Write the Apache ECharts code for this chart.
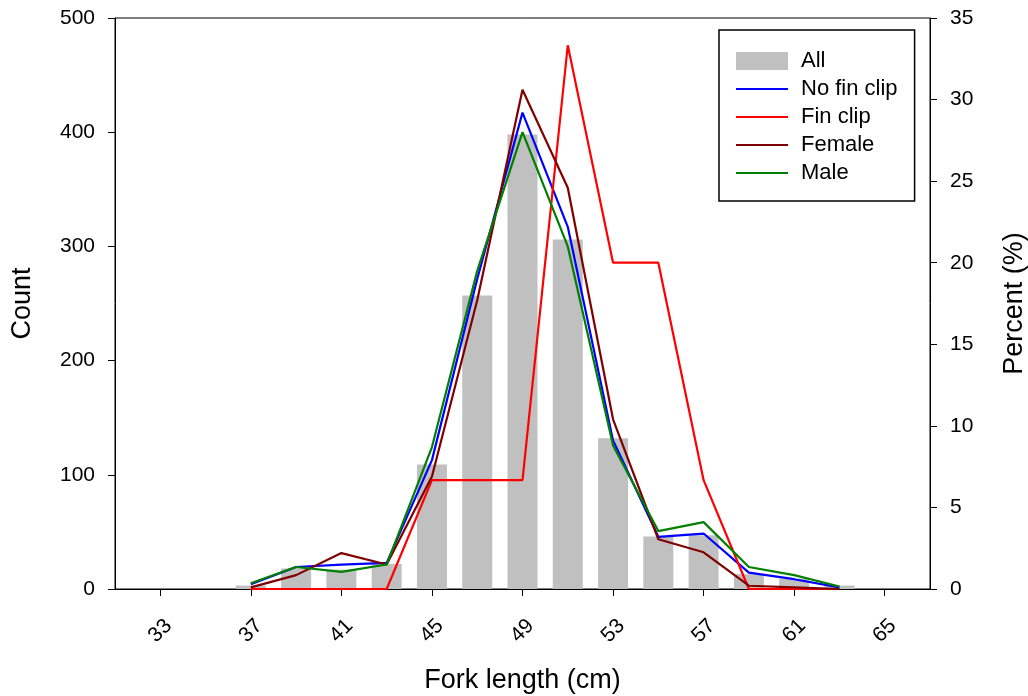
<!DOCTYPE html>
<html>
<head>
<meta charset="utf-8">
<script src="https://cdn.jsdelivr.net/npm/echarts@6/dist/echarts.min.js"></script>
<style>
html,body{margin:0;padding:0;background:#fff;}
#chart{width:1028px;height:696px;}
</style>
</head>
<body>
<div id="chart"></div>
<script>
// Fork length classes (cm)
const lengths = [37, 39, 41, 43, 45, 47, 49, 51, 53, 55, 57, 59, 61, 63];
// Count of all fish (left axis)
const allCount = [3, 18, 17, 22, 109, 257, 398, 306, 132, 46, 47, 13, 9, 3];
// Percent (right axis)
const noFinClip = [0.3, 1.35, 1.5, 1.6, 7.9, 19.0, 29.2, 22.2, 9.1, 3.2, 3.4, 1.0, 0.6, 0.1];
const finClip = [0, 0, 0, 0, 6.67, 6.67, 6.67, 33.33, 20, 20, 6.67, 0, 0, 0];
const female = [0.1, 0.85, 2.2, 1.5, 6.9, 17.7, 30.6, 24.6, 10.4, 3.05, 2.25, 0.2, 0.1, 0];
const male = [0.35, 1.35, 1.05, 1.5, 8.7, 19.5, 28.0, 21.0, 8.8, 3.55, 4.1, 1.35, 0.85, 0.15];
// Tick labels
const xTicks = [33, 37, 41, 45, 49, 53, 57, 61, 65];

const FONT = '"Liberation Sans", Arial, sans-serif';
const pair = arr => lengths.map((x, i) => [x, arr[i]]);

const chart = echarts.init(document.getElementById('chart'));
const lineSeries = (name, color, data) => ({
  name, type: 'line', yAxisIndex: 1, data: pair(data),
  symbol: 'none', lineStyle: {color, width: 2.2}, itemStyle: {color},
  z: 3, animation: false
});
const hideSym = name => ({name, itemStyle: {opacity: 0}});

chart.setOption({
  animation: false,
  grid: {left: 115, right: 98, top: 18, bottom: 107, show: true, borderColor: '#000', borderWidth: 1,
    containLabel: false, outerBoundsMode: 'none'},
  legend: {
    orient: 'vertical', left: 719, top: 30,
    borderColor: '#000', borderWidth: 1.5, padding: [20, 17, 17, 16],
    itemWidth: 52, itemHeight: 18, itemGap: 6,
    textStyle: {fontFamily: FONT, fontSize: 22, color: '#000', padding: [0, 0, 0, 8]},
    data: [
      {name: 'All', icon: 'rect'},
      hideSym('No fin clip'), hideSym('Fin clip'), hideSym('Female'), hideSym('Male')
    ]
  },
  xAxis: {
    type: 'value', min: 31, max: 67,
    name: 'Fork length (cm)', nameLocation: 'middle', nameGap: 78,
    nameTextStyle: {fontFamily: FONT, fontSize: 27, color: '#000'},
    splitLine: {show: false},
    axisLine: {lineStyle: {color: '#000', width: 1}},
    axisTick: {customValues: xTicks, length: 7, lineStyle: {color: '#000'}},
    axisLabel: {customValues: xTicks, rotate: 45, align: 'center', verticalAlign: 'middle', margin: 42,
      fontFamily: FONT, fontSize: 21, color: '#000'}
  },
  yAxis: [{
    type: 'value', min: 0, max: 500, interval: 100, position: 'left',
    name: 'Count', nameLocation: 'middle', nameGap: 79, nameRotate: 90,
    nameTextStyle: {fontFamily: FONT, fontSize: 27, color: '#000'},
    splitLine: {show: false},
    axisLine: {show: true, lineStyle: {color: '#000'}},
    axisTick: {show: true, length: 7, lineStyle: {color: '#000'}},
    axisLabel: {fontFamily: FONT, fontSize: 21, color: '#000', margin: 20}
  }, {
    type: 'value', min: 0, max: 35, interval: 5, position: 'right',
    name: 'Percent (%)', nameLocation: 'middle', nameGap: 71, nameRotate: 90,
    nameTextStyle: {fontFamily: FONT, fontSize: 27, color: '#000'},
    splitLine: {show: false},
    axisLine: {show: true, lineStyle: {color: '#000'}},
    axisTick: {show: true, length: 7, lineStyle: {color: '#000'}},
    axisLabel: {fontFamily: FONT, fontSize: 21, color: '#000', margin: 20}
  }],
  series: [
    {name: 'All', type: 'bar', yAxisIndex: 0, data: pair(allCount), barWidth: 30,
      itemStyle: {color: '#c0c0c0'}, z: 2},
    lineSeries('No fin clip', '#0000ff', noFinClip),
    lineSeries('Fin clip', '#ff0000', finClip),
    lineSeries('Female', '#800000', female),
    lineSeries('Male', '#008000', male)
  ]
});
</script>
</body>
</html>
